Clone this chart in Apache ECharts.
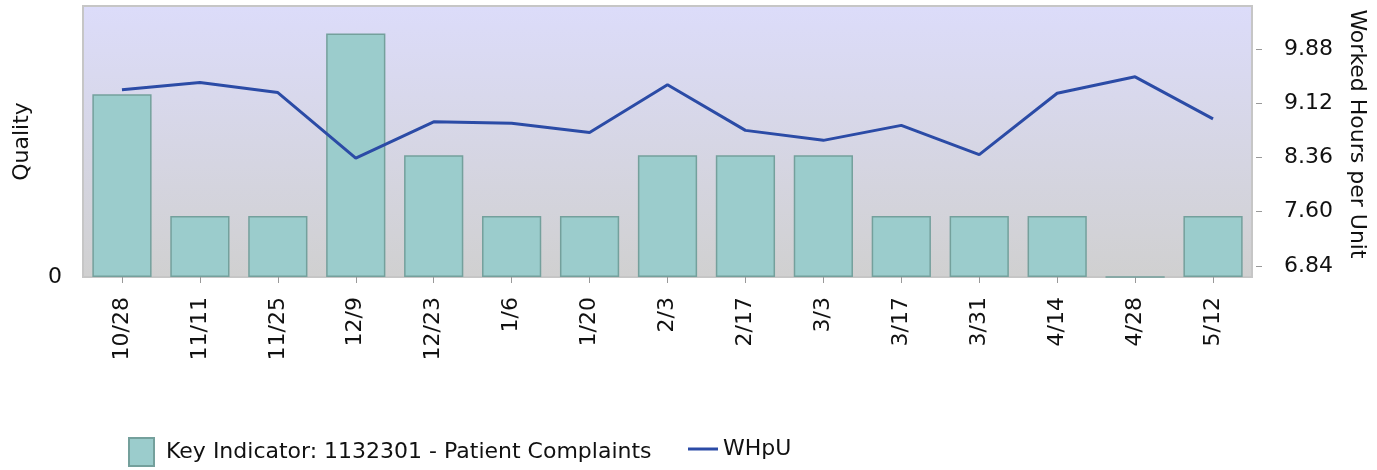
<!DOCTYPE html>
<html>
<head>
<meta charset="utf-8">
<script src="https://cdn.jsdelivr.net/npm/echarts@6/dist/echarts.min.js"></script>
<style>
  html, body { margin: 0; padding: 0; background: #fff; }
  #main { width: 1377px; height: 470px; }
</style>
</head>
<body>
<div id="main"></div>
<script>
// data
var dates = ['10/28', '11/11', '11/25', '12/9', '12/23', '1/6', '1/20', '2/3', '2/17', '3/3', '3/17', '3/31', '4/14', '4/28', '5/12'];
var complaints = [3, 1, 1, 4, 2, 1, 1, 2, 2, 2, 1, 1, 1, 0, 1];
var whpu = [9.31, 9.41, 9.27, 8.35, 8.86, 8.84, 8.71, 9.38, 8.74, 8.60, 8.81, 8.40, 9.26, 9.49, 8.90];
var qualityTicks = [0];
var whpuTicks = [6.84, 7.60, 8.36, 9.12, 9.88];

var barName = 'Key Indicator: 1132301 - Patient Complaints';
var lineName = 'WHpU';
var font = 'DejaVu Sans';

var chart = echarts.init(document.getElementById('main'));

var option = {
  animation: false,
  textStyle: { fontFamily: font },
  grid: {
    left: 83, right: 125, top: 6, bottom: 193,
    show: true,
    borderColor: '#c6c6c6',
    borderWidth: 2,
    backgroundColor: new echarts.graphic.LinearGradient(0, 0, 0, 1, [
      { offset: 0, color: '#dcdcfa' },
      { offset: 1, color: '#d0d0d0' }
    ])
  },
  legend: [{
    data: [barName],
    left: 123, top: 432,
    icon: 'rect',
    itemWidth: 25, itemHeight: 28,
    textStyle: { fontFamily: font, fontSize: 22, color: '#111', padding: [0, 0, 0, 7] }
  }, {
    data: [{ name: lineName, icon: 'rect' }],
    left: 683, top: 433,
    itemWidth: 30, itemHeight: 3,
    textStyle: { fontFamily: font, fontSize: 22, color: '#111' }
  }],
  xAxis: {
    type: 'category',
    data: dates,
    offset: 4,
    axisLine: { show: false },
    axisTick: { show: true, alignWithLabel: true, length: 6, lineStyle: { color: '#999' } },
    axisLabel: { rotate: 90, margin: 16, fontSize: 22, color: '#111', fontFamily: font, interval: 0 },
    splitLine: { show: false }
  },
  yAxis: [{
    type: 'value',
    name: 'Quality',
    nameLocation: 'middle',
    nameRotate: 90,
    nameGap: 50,
    nameTextStyle: { fontSize: 22, color: '#111', fontFamily: font },
    min: 0, max: 4.45,
    axisLine: { show: false },
    axisTick: { show: false },
    splitLine: { show: false },
    axisLabel: { customValues: qualityTicks, margin: 21, fontSize: 22, color: '#111', fontFamily: font }
  }, {
    type: 'value',
    position: 'right',
    name: 'Worked Hours per Unit',
    nameLocation: 'middle',
    nameRotate: -90,
    nameGap: 90,
    nameTextStyle: { fontSize: 22, color: '#111', fontFamily: font, padding: [0, 15, 0, 0] },
    min: 6.686, max: 10.482,
    offset: 4,
    axisLine: { show: false },
    axisTick: { show: true, customValues: whpuTicks, length: 6, lineStyle: { color: '#999' } },
    splitLine: { show: false },
    axisLabel: {
      customValues: whpuTicks, margin: 28, fontSize: 22, color: '#111', fontFamily: font,
      formatter: function (v) { return v.toFixed(2); }
    }
  }],
  series: [{
    name: barName,
    type: 'bar',
    yAxisIndex: 0,
    barWidth: '76%',
    itemStyle: { color: '#9bcccc', borderColor: '#74a09c', borderWidth: 1.5 },
    data: complaints
  }, {
    name: lineName,
    type: 'line',
    yAxisIndex: 1,
    symbol: 'none',
    lineStyle: { color: '#2b4ba6', width: 3 },
    itemStyle: { color: '#2b4ba6' },
    data: whpu
  }]
};

chart.setOption(option);
</script>
</body>
</html>
